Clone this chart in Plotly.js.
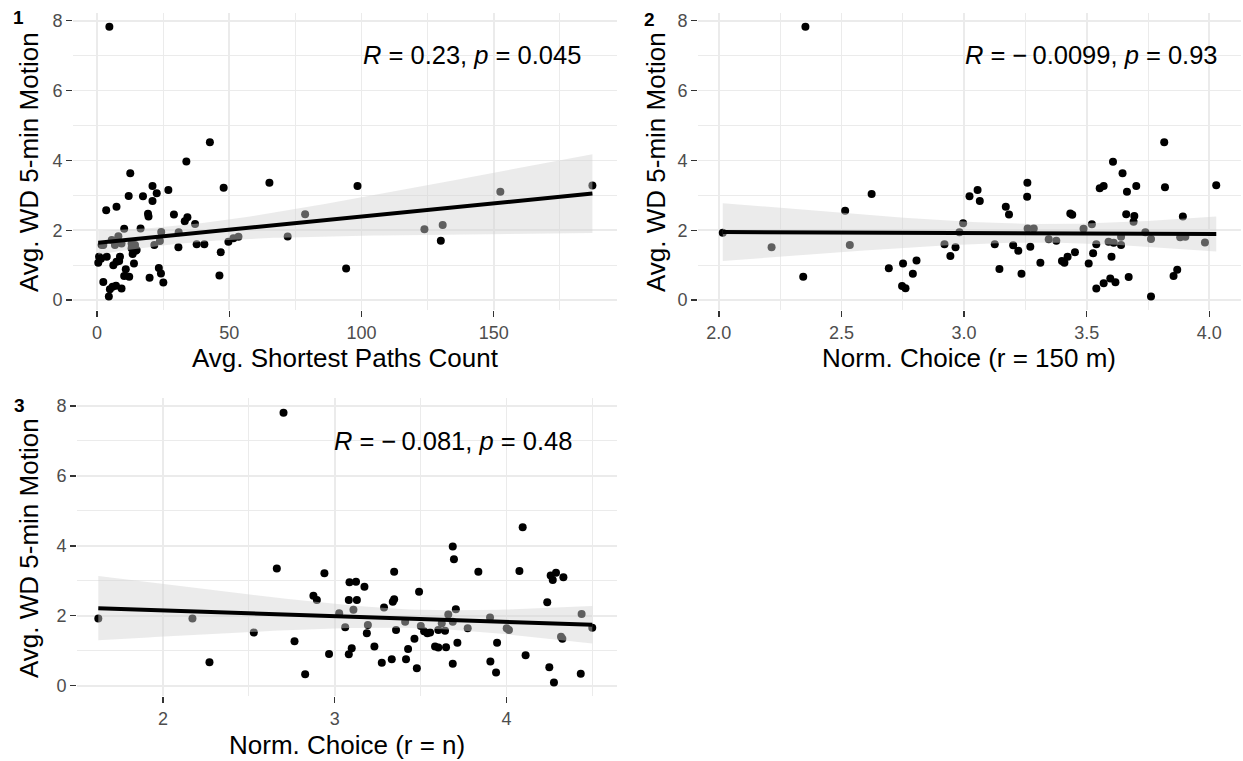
<!DOCTYPE html>
<html><head><meta charset="utf-8">
<script src="https://cdn.plot.ly/plotly-3.0.1.min.js"></script>
<style>html,body{margin:0;padding:0;background:#fff}#chart{width:1243px;height:761px}</style>
</head><body><div id="chart"></div>
<script>
// Panel 1: Avg. Shortest Paths Count vs motion
const p1x = [4.7,42.7,33.8,12.6,65.2,21.0,22.6,27.0,12.0,17.4,21.0,7.4,3.5,19.3,19.5,29.1,34.2,33.2,37.1,10.3,16.5,24.3,30.9,8.1,5.6,2.4,6.8,9.3,13.1,14.4,23.8,21.7,30.8,37.7,40.6,14.6,13.5,0.8,3.7,8.7,0.5,7.4,6.2,8.4,14.0,10.9,23.4,10.3,12.2,19.9,24.2,25.1,2.4,5.9,7.2,9.3,4.9,4.5,47.9,98.5,78.7,46.8,46.3,49.7,51.6,53.5,72.1,94.2,123.8,130.7,130.0,152.5,187.3,1.5,13.1,15.0,1.8];
const p1y = [7.83,4.52,3.97,3.63,3.36,3.27,3.06,3.15,2.98,2.97,2.84,2.67,2.57,2.47,2.39,2.45,2.37,2.26,2.18,2.04,2.05,1.95,1.94,1.83,1.72,1.58,1.58,1.62,1.62,1.58,1.69,1.58,1.51,1.60,1.60,1.41,1.32,1.24,1.24,1.24,1.07,1.10,1.00,1.12,1.05,0.88,0.92,0.69,0.67,0.64,0.76,0.50,0.52,0.38,0.41,0.33,0.31,0.10,3.22,3.27,2.46,1.37,0.70,1.67,1.77,1.81,1.82,0.90,2.03,2.15,1.70,3.10,3.28,1.18,1.48,1.43,1.58];
// Panel 2: Norm. Choice (r = 150 m)
const p2x = [2.353,2.016,2.215,2.344,2.515,2.534,2.623,2.693,2.751,2.806,2.791,2.747,2.761,2.920,2.965,2.944,2.981,2.996,3.022,3.055,3.064,3.125,3.144,3.170,3.183,3.200,3.221,3.234,3.258,3.257,3.259,3.284,3.270,3.311,3.345,3.376,3.399,3.409,3.422,3.433,3.441,3.452,3.487,3.508,3.521,3.539,3.526,3.553,3.569,3.607,3.646,3.664,3.702,3.661,3.694,3.691,3.589,3.610,3.640,3.640,3.601,3.539,3.569,3.596,3.617,3.671,3.739,3.762,3.762,3.816,3.819,3.881,3.902,3.892,3.854,3.869,3.982,4.028];
const p2y = [7.83,1.93,1.51,0.67,2.56,1.58,3.04,0.91,1.05,1.13,0.75,0.40,0.34,1.60,1.51,1.26,1.94,2.20,2.97,3.15,2.84,1.60,0.89,2.67,2.45,1.57,1.41,0.75,3.36,2.96,2.05,2.05,1.53,1.07,1.74,1.70,1.12,1.07,1.24,2.48,2.44,1.37,2.04,1.05,2.17,1.60,1.34,3.20,3.27,3.96,3.63,3.10,3.27,2.46,2.41,2.24,1.67,1.64,1.81,1.58,1.24,0.33,0.48,0.62,0.51,0.66,1.94,1.75,0.10,4.52,3.23,1.80,1.81,2.39,0.69,0.87,1.65,3.29];
// Panel 3: Norm. Choice (r = n)
const p3x = [2.702,1.624,2.172,2.271,2.529,2.663,2.766,2.828,2.876,2.896,2.940,2.967,3.026,3.061,3.086,3.124,3.082,3.129,3.109,3.082,3.099,3.173,3.193,3.187,3.231,3.274,3.332,3.287,3.338,3.346,3.346,3.357,3.410,3.415,3.427,3.464,3.478,3.491,3.501,3.520,3.539,3.584,3.603,4.094,3.687,3.694,3.836,4.075,4.257,4.288,4.269,4.331,4.237,4.437,4.499,4.317,4.325,4.001,4.014,3.904,3.774,3.705,3.661,3.687,3.623,3.603,3.642,3.555,3.648,3.714,3.687,3.945,3.906,3.939,4.111,4.249,4.276,4.432];
const p3y = [7.81,1.92,1.92,0.67,1.52,3.35,1.27,0.33,2.57,2.45,3.22,0.91,2.07,1.67,2.96,2.97,2.45,2.45,2.17,0.90,1.07,2.83,1.74,1.50,1.12,0.66,0.76,2.24,2.40,2.47,3.26,1.59,1.83,0.76,1.05,1.34,0.50,2.69,1.71,1.56,1.50,1.12,1.09,4.53,3.98,3.62,3.26,3.28,3.15,3.23,3.02,3.10,2.39,2.05,1.66,1.40,1.34,1.64,1.59,1.95,1.64,2.19,2.04,1.83,1.79,1.59,1.57,1.52,1.10,1.23,0.63,1.23,0.69,0.38,0.87,0.53,0.09,0.34];

const xTitles = ['Avg. Shortest Paths Count', 'Norm. Choice (r = 150 m)', 'Norm. Choice (r = n)'];
const yTitle = 'Avg. WD 5-min Motion';
const statLabels = ['<i>R</i> = 0.23, <i>p</i> = 0.045', '<i>R</i> = \u2212\u20090.0099, <i>p</i> = 0.93', '<i>R</i> = \u2212\u20090.081, <i>p</i> = 0.48'];
const panelTags = ['1', '2', '3'];
const yTickVals = [0, 2, 4, 6, 8];
const xTickVals1 = [0, 50, 100, 150];
const xTickVals2 = [2.0, 2.5, 3.0, 3.5, 4.0];
const xTickText2 = ['2.0', '2.5', '3.0', '3.5', '4.0'];
const xTickVals3 = [2, 3, 4];

const W = 1243, H = 761;
const FONT = 'Liberation Sans, Arial, Helvetica, sans-serif';

function tQuant(df) {
  const z = 1.959964;
  const g1 = (Math.pow(z,3) + z) / 4;
  const g2 = (5*Math.pow(z,5) + 16*Math.pow(z,3) + 3*z) / 96;
  const g3 = (3*Math.pow(z,7) + 19*Math.pow(z,5) + 17*Math.pow(z,3) - 15*z) / 384;
  return z + g1/df + g2/(df*df) + g3/(df*df*df);
}
function lmFit(x, y) {
  const n = x.length;
  const mx = x.reduce((a,b)=>a+b,0)/n, my = y.reduce((a,b)=>a+b,0)/n;
  let sxx = 0, sxy = 0;
  for (let i=0;i<n;i++){ sxx += (x[i]-mx)*(x[i]-mx); sxy += (x[i]-mx)*(y[i]-my); }
  const b = sxy/sxx, a = my - b*mx;
  let sse = 0;
  for (let i=0;i<n;i++){ const r = y[i]-(a+b*x[i]); sse += r*r; }
  const s2 = sse/(n-2), t = tQuant(n-2);
  const lo = Math.min(...x), hi = Math.max(...x);
  const gx = [], fy = [], up = [], dn = [];
  for (let k=0;k<80;k++){
    const g = lo + (hi-lo)*k/79;
    const f = a + b*g;
    const se = Math.sqrt(s2*(1/n + (g-mx)*(g-mx)/sxx));
    gx.push(g); fy.push(f); up.push(f + t*se); dn.push(f - t*se);
  }
  return {gx, fy, up, dn};
}

const panels = [
  {x:p1x, y:p1y, xa:'x', ya:'y'},
  {x:p2x, y:p2y, xa:'x2', ya:'y2'},
  {x:p3x, y:p3y, xa:'x3', ya:'y3'}
];
const traces = [];
panels.forEach(p => {
  traces.push({type:'scatter', mode:'markers', x:p.x, y:p.y, xaxis:p.xa, yaxis:p.ya,
    marker:{color:'#000000', size:8, line:{width:0}}, showlegend:false});
  const f = lmFit(p.x, p.y);
  traces.push({type:'scatter', mode:'lines', x:f.gx.concat(f.gx.slice().reverse()),
    y:f.up.concat(f.dn.slice().reverse()), xaxis:p.xa, yaxis:p.ya, fill:'toself',
    fillcolor:'rgba(210,210,210,0.45)', line:{width:0, color:'rgba(0,0,0,0)'}, showlegend:false});
  traces.push({type:'scatter', mode:'lines', x:f.gx, y:f.fy, xaxis:p.xa, yaxis:p.ya,
    line:{color:'#000000', width:4}, showlegend:false});
});

function px2dom(a, b){ return [a/W, b/W]; }
function py2dom(top, bottom){ return [1 - bottom/H, 1 - top/H]; }

const GRID = '#ebebeb';
function ax(extra){
  return Object.assign({
    showgrid:true, gridcolor:GRID, gridwidth:1.8, zeroline:false, showline:false,
    ticks:'outside', ticklen:6, tickwidth:1.4, tickcolor:'#333333', ticklabelstandoff:0,
    tickfont:{family:FONT, size:18, color:'#4d4d4d'}, fixedrange:true, automargin:false
  }, extra);
}
function minor(t0, dt){ return {tickmode:'linear', tick0:t0, dtick:dt, showgrid:true, gridcolor:GRID, gridwidth:1.0, ticks:''}; }

const layout = {
  width:W, height:H, margin:{l:0, r:0, t:0, b:0, autoexpand:false}, paper_bgcolor:'#ffffff', plot_bgcolor:'#ffffff',
  showlegend:false, font:{family:FONT, color:'#000000', size:18},
  xaxis: ax({domain:px2dom(73,617), range:[-9.05,196.6], anchor:'y', tickmode:'array', tickvals:xTickVals1, minor:minor(25,50)}),
  yaxis: ax({domain:py2dom(13.1,310.4), range:[-0.297,8.22], anchor:'x', tickmode:'array', tickvals:yTickVals, minor:minor(1,2)}),
  xaxis2: ax({domain:px2dom(698,1241), range:[1.915,4.129], anchor:'y2', tickmode:'array', tickvals:xTickVals2, ticktext:xTickText2, minor:minor(2.25,0.5)}),
  yaxis2: ax({domain:py2dom(13.1,310.4), range:[-0.297,8.22], anchor:'x2', tickmode:'array', tickvals:yTickVals, minor:minor(1,2)}),
  xaxis3: ax({domain:px2dom(77,617), range:[1.50,4.643], anchor:'y3', tickmode:'array', tickvals:xTickVals3, minor:minor(1.5,1)}),
  yaxis3: ax({domain:py2dom(398.3,696.1), range:[-0.297,8.22], anchor:'x3', tickmode:'array', tickvals:yTickVals, minor:minor(1,2)}),
  annotations: []
};

function ann(text, x, y, size, extra){
  return Object.assign({text, x:x/W, y:1-y/H, xref:'paper', yref:'paper', xanchor:'center', yanchor:'middle',
    showarrow:false, font:{family:FONT, size, color:'#000000'}}, extra||{});
}
layout.annotations.push(ann(statLabels[0], 472, 55, 25.5));
layout.annotations.push(ann(statLabels[1], 1091, 55, 25.5));
layout.annotations.push(ann(statLabels[2], 453, 441, 25.5));
layout.annotations.push(ann('<b>'+panelTags[0]+'</b>', 18, 18, 19));
layout.annotations.push(ann('<b>'+panelTags[1]+'</b>', 649, 19, 19));
layout.annotations.push(ann('<b>'+panelTags[2]+'</b>', 19, 405, 19));
layout.annotations.push(ann(xTitles[0], 345, 358, 26));
layout.annotations.push(ann(xTitles[1], 969, 358, 26));
layout.annotations.push(ann(xTitles[2], 347, 745, 26));
layout.annotations.push(ann(yTitle, 29, 162, 26, {textangle:-90}));
layout.annotations.push(ann(yTitle, 656, 162, 26, {textangle:-90}));
layout.annotations.push(ann(yTitle, 29, 548, 26, {textangle:-90}));

Plotly.newPlot('chart', traces, layout, {displayModeBar:false, staticPlot:true});
</script></body></html>
